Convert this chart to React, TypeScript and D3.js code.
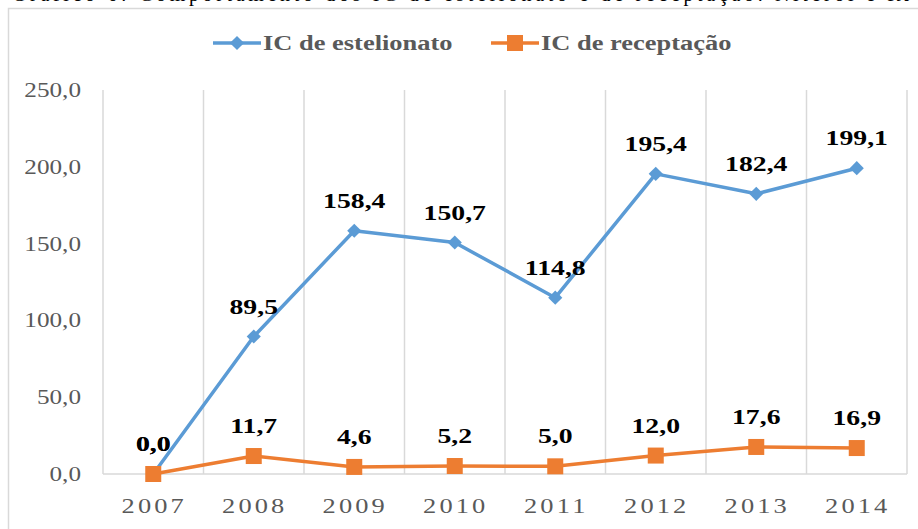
import React from "react";
import * as d3 from "d3";

const years = ["2007", "2008", "2009", "2010", "2011", "2012", "2013", "2014"];
const estelionato = [0.0, 89.5, 158.4, 150.7, 114.8, 195.4, 182.4, 199.1];
const receptacao = [0.0, 11.7, 4.6, 5.2, 5.0, 12.0, 17.6, 16.9];
const yTicks = [0, 50, 100, 150, 200, 250];

const W = 918;
const H = 529;
const font = "Liberation Serif, Times New Roman, serif";
const SX = 1.26; // source image is stretched horizontally
const fmt = (v: number) => v.toFixed(1).replace(".", ",");

// text stretched horizontally like the source
const T = ({ x, y, children, ...rest }: any) => (
  <text transform={`translate(${x},${y}) scale(${SX},1)`} {...rest}>
    {children}
  </text>
);

export default function App() {
  const x = d3.scaleBand<string>().domain(years).range([103, 907]);
  const y = d3.scaleLinear().domain([0, 250]).range([474, 90]);
  const cx = (d: string) => (x(d) as number) + x.bandwidth() / 2;

  const line = d3
    .line<number>()
    .x((_, i) => cx(years[i]))
    .y((v) => y(v));

  const series = [
    { name: "IC de estelionato", values: estelionato, color: "#5B9BD5", marker: "diamond" },
    { name: "IC de receptação", values: receptacao, color: "#ED7D31", marker: "square" },
  ];

  return (
    <svg
      width={W}
      height={H}
      style={{ position: "absolute", left: 0, top: 0, background: "#fff" }}
      fontFamily={font}
    >
      {/* title, cut off at the top of the source image */}
      <text x={12} y={1} fontSize={20} fill="#000" textLength={900} lengthAdjust="spacing">
        Gráfico 6: Comportamento dos IC de estelionato e de receptação. Niterói e RJ
      </text>
      <rect x={8.5} y={8.5} width={920} height={540} fill="none" stroke="#d9d9d9" strokeWidth={1.5} />

      {/* legend */}
      {series.map((s, i) => {
        const lx = i === 0 ? 213 : 491;
        return (
          <g key={s.name}>
            <line x1={lx} x2={lx + 48} y1={43} y2={43} stroke={s.color} strokeWidth={3.5} />
            {s.marker === "diamond" ? (
              <rect x={lx + 24 - 5} y={38} width={10} height={10} fill={s.color}
                transform={`rotate(45 ${lx + 24} 43)`} />
            ) : (
              <rect x={lx + 24 - 8} y={35} width={16} height={16} fill={s.color} />
            )}
            <T x={lx + 50} y={50} fontSize={21} fontWeight="bold" fill="#595959">
              {s.name}
            </T>
          </g>
        );
      })}

      {/* vertical gridlines */}
      {years.map((d) => (
        <line key={d} x1={x(d)} x2={x(d)} y1={90} y2={474} stroke="#d9d9d9" strokeWidth={1.5} />
      ))}
      <line x1={907} x2={907} y1={90} y2={474} stroke="#d9d9d9" strokeWidth={1.5} />
      <line x1={103} x2={907} y1={474} y2={474} stroke="#d9d9d9" strokeWidth={1.5} />

      {/* y axis labels */}
      {yTicks.map((t) => (
        <T key={t} x={81} y={y(t) + 7} fontSize={20} fill="#595959" textAnchor="end">
          {fmt(t)}
        </T>
      ))}

      {/* x axis labels */}
      {years.map((d) => (
        <T key={d} x={cx(d) + 1} y={513} fontSize={21} fill="#595959" textAnchor="middle"
          letterSpacing={2.5}>
          {d}
        </T>
      ))}

      {/* series */}
      {series.map((s) => (
        <g key={s.name}>
          <path d={line(s.values) || ""} fill="none" stroke={s.color} strokeWidth={3.5}
            strokeLinejoin="round" />
          {s.values.map((v, i) => {
            const px = cx(years[i]);
            const py = y(v);
            return s.marker === "diamond" ? (
              <rect key={i} x={px - 5} y={py - 5} width={10} height={10} fill={s.color}
                transform={`rotate(45 ${px} ${py})`} />
            ) : (
              <rect key={i} x={px - 8} y={py - 8} width={16} height={16} fill={s.color} />
            );
          })}
          {s.values.map((v, i) => (
            <T key={"l" + i} x={cx(years[i])} y={y(v) - 23} fontSize={22} fontWeight="bold"
              fill="#000" textAnchor="middle">
              {fmt(v)}
            </T>
          ))}
        </g>
      ))}
    </svg>
  );
}
